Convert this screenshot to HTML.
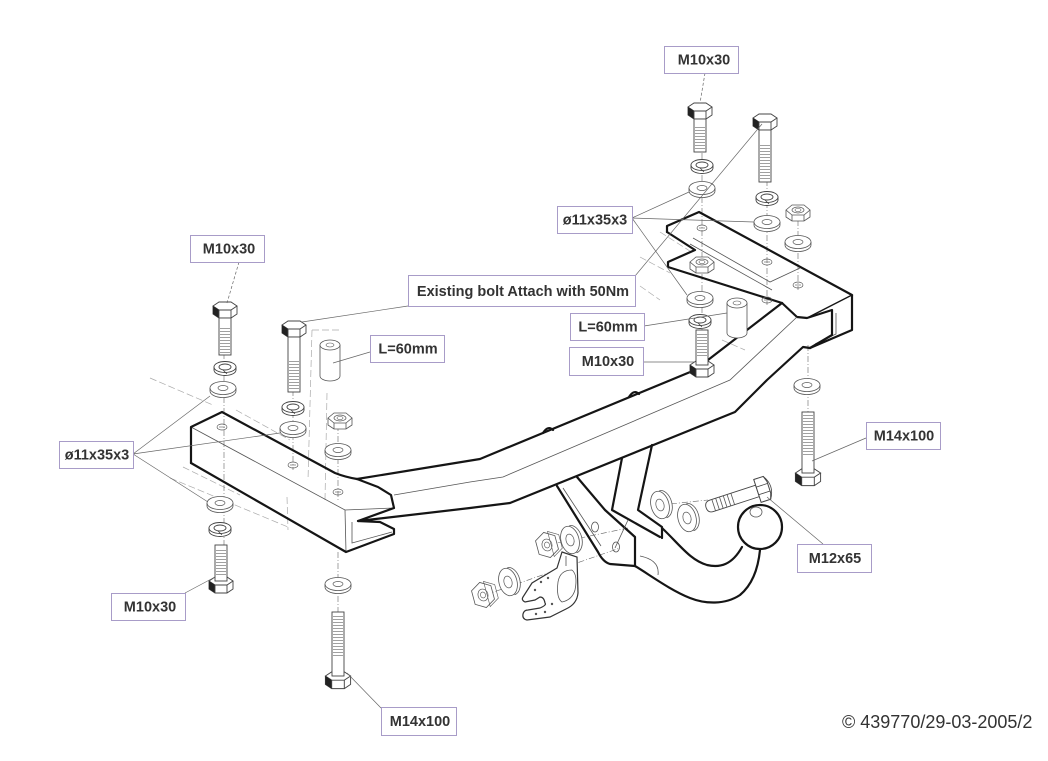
<!DOCTYPE html>
<html><head><meta charset="utf-8">
<style>
html,body{margin:0;padding:0;background:#fff;}
svg{display:block;}
.lb{fill:#fff;stroke:#a89cc8;stroke-width:1;}
.lt{font-family:"Liberation Sans",Arial,sans-serif;font-weight:bold;font-size:14.5px;fill:#333;text-anchor:middle;}
.th{fill:none;stroke:#151515;stroke-width:2.2;stroke-linejoin:round;stroke-linecap:round;}
.tn{fill:none;stroke:#555;stroke-width:0.8;}
.ld{fill:none;stroke:#666;stroke-width:0.7;}
.ph{fill:none;stroke:#aaa;stroke-width:0.7;stroke-dasharray:7,3;}
.cl{fill:none;stroke:#666;stroke-width:0.6;stroke-dasharray:6,2,1,2;}
</style></head>
<body>
<svg width="1048" height="761" viewBox="0 0 1048 761" xmlns="http://www.w3.org/2000/svg">
<defs>
<pattern id="thr" width="4" height="3" patternUnits="userSpaceOnUse"><line x1="0" y1="1.5" x2="4" y2="1.5" stroke="#777" stroke-width="0.7"/></pattern>
<g id="w">
 <path d="M-13,0 v3 a13,6.5 0 0 0 26,0 v-3" fill="#fff" stroke="#555" stroke-width="0.8"/>
 <ellipse rx="13" ry="6.5" fill="#fff" stroke="#555" stroke-width="0.8"/>
 <ellipse rx="5" ry="2.5" fill="none" stroke="#555" stroke-width="0.7"/>
</g>
<g id="sw">
 <path d="M-11,0 v3 a11,5.5 0 0 0 22,0 v-3" fill="#fff" stroke="#444" stroke-width="0.9"/>
 <ellipse rx="11" ry="5.5" fill="#fff" stroke="#444" stroke-width="0.9"/>
 <ellipse rx="6" ry="3" fill="none" stroke="#444" stroke-width="0.9"/>
 <line x1="-2" y1="3" x2="2" y2="7" stroke="#444" stroke-width="0.8"/>
</g>
<g id="n">
 <path d="M-12,0 L-12,7 L-6,11 L6,11 L12,7 L12,0" fill="#fff" stroke="#555" stroke-width="0.8"/>
 <polygon points="-12,0 -6,-5 6,-5 12,0 6,5 -6,5" fill="#fff" stroke="#555" stroke-width="0.8"/>
 <line x1="-6" y1="5" x2="-6" y2="11" stroke="#555" stroke-width="0.8"/>
 <line x1="6" y1="5" x2="6" y2="11" stroke="#555" stroke-width="0.8"/>
 <ellipse rx="6" ry="3" fill="none" stroke="#555" stroke-width="0.7"/>
 <ellipse rx="3" ry="1.5" fill="none" stroke="#555" stroke-width="0.6"/>
</g>
<g id="h">
 <ellipse rx="5" ry="3" fill="none" stroke="#555" stroke-width="0.7"/>
 <line x1="-3" y1="0" x2="3" y2="0" stroke="#555" stroke-width="0.6"/>
</g>
<g id="bh">
 <path d="M-12,0 L-12,8 L-6,12 L6,12 L12,8 L12,0" fill="#fff" stroke="#444" stroke-width="0.9"/>
 <polygon points="-12,0 -6,-4 6,-4 12,0 6,4 -6,4" fill="#fff" stroke="#444" stroke-width="0.9"/>
 <polygon points="-12,0 -6,4 -6,12 -12,8" fill="#222"/>
 <line x1="-6" y1="4" x2="-6" y2="12" stroke="#444" stroke-width="0.9"/>
 <line x1="6" y1="4" x2="6" y2="12" stroke="#444" stroke-width="0.9"/>
</g>
<g id="vw">
 <path d="M0,-14 a9,14 0 0 1 0,28" transform="translate(3,0)" fill="#fff" stroke="#555" stroke-width="0.8"/>
 <ellipse rx="9" ry="14" fill="#fff" stroke="#555" stroke-width="0.8"/>
 <ellipse rx="4" ry="6" fill="none" stroke="#555" stroke-width="0.7"/>
</g>
<g id="vn">
 <polygon points="0,-13 10,-7 10,7 0,13 -10,7 -10,-7" fill="#fff" stroke="#555" stroke-width="0.8"/>
 <polygon points="4,-13 14,-7 14,7 4,13" fill="none" stroke="#555" stroke-width="0.6"/>
 <ellipse rx="5" ry="6" fill="none" stroke="#555" stroke-width="0.7"/>
 <ellipse rx="2.5" ry="3" fill="none" stroke="#555" stroke-width="0.6"/>
</g>
</defs>

<!-- phantom chassis lines -->
<g class="ph">
 <path d="M150,378 L213,405"/>
 <path d="M170,478 L288,527"/>
 <path d="M183,467 L240,495"/>
 <path d="M312,330 L308,480"/>
 <path d="M327,393 L325,500"/>
 <path d="M312,330 L340,330"/>
 <path d="M287,497 L288,530"/>
 <path d="M236,410 L290,440"/>
 <path d="M640,257 L670,273"/>
 <path d="M660,232 L693,253"/>
 <path d="M640,286 L660,300"/>
 <path d="M722,340 L745,350"/>
</g>

<!-- centerlines -->
<g class="cl">
 <path d="M702,120 V372"/>
 <path d="M767,180 V305"/>
 <path d="M798,220 V290"/>
 <path d="M808,345 V412"/>
 <path d="M224,353 V545"/>
 <path d="M293,390 V470"/>
 <path d="M338,425 V500"/>
 <path d="M338,552 V612"/>
 <path d="M485,595 L620,548"/>
 <path d="M547,545 L628,528"/>
 <path d="M660,505 L708,500"/>
</g>

<!-- RIGHT BRACKET -->
<path d="M699,212 L852,295 L807,318" fill="none" stroke="#151515" stroke-width="1.4"/>
<path class="tn" d="M693,238 L770,282 L800,268"/>
<path class="tn" d="M690,244 L772,290"/>
<path class="tn" d="M852,295 L852,330"/>
<path class="tn" d="M836,313 L836,334 L815,344"/>
<path class="th" d="M667,232 L667,226 L699,212 L852,295 L852,330 L810,348"/>
<path class="th" d="M667,232 L695,250 L668,262 L668,267 L782,303"/>
<path class="th" d="M782,303 L797,317 L807,318 L832,310 L832,335 L810,348"/>

<!-- LEFT BRACKET -->
<path class="tn" d="M191,427 L345,510 L394,508"/>
<path class="tn" d="M345,510 L346,552"/>
<path class="tn" d="M352,522 L352,543 L392,532"/>
<path class="th" d="M191,463 L191,427 L222,412 L335,473 Q345,477 357,479"/>
<path class="th" d="M191,463 L346,552 L394,534 L394,529 L380,522 L358,521"/>

<!-- MAIN BEAM -->
<path class="th" d="M357,479 L480,459 L695,370 L782,303"/>
<path class="th" d="M357,479 L378,487 L391,495 L394,508 L358,521 L470,508 L510,503 L735,412 L767,380 L803,347 L810,348"/>
<path class="tn" d="M394,495 L470,482 L503,477 L730,380 L797,317"/>
<path class="th" stroke-width="1.4" d="M543,433 q5,-8 10,-3 M629,397 q5,-8 10,-3"/>

<!-- DRAWBAR -->
<path class="th" d="M557,486 L598,552 Q603,562 610,564 L635,566 L635,537 L605,510 L577,477"/>
<path class="tn" d="M563,488 L601,546"/>
<ellipse cx="595" cy="527" rx="3.5" ry="5" class="tn"/>
<ellipse cx="616" cy="547" rx="3.5" ry="5" class="tn"/>
<path class="th" d="M622,458 L612,510 L660,537"/>
<path class="th" d="M652,445 L638,510 L662,527 L662,538"/>
<path class="tn" d="M628,520 L615,548 M640,556 Q660,560 658,575"/>
<path class="th" d="M662,528 C680,545 690,560 707,565 C720,568 732,565 742,547"/>
<path class="th" d="M635,566 C650,575 670,590 690,598 C705,604 725,605 740,595 C752,585 758,570 760,550"/>
<circle cx="760" cy="527" r="22" fill="#fff" stroke="#151515" stroke-width="2.2"/>
<ellipse cx="756" cy="512" rx="6" ry="5" class="tn"/>

<!-- M12x65 bolt -->
<g transform="translate(708,507) rotate(-18)">
 <path d="M4,-6 L52,-6 L52,6 L4,6 Q-2,6 -2,0 Q-2,-6 4,-6 Z" fill="#fff" stroke="#444" stroke-width="0.9"/>
 <rect x="4" y="-6" width="26" height="12" fill="url(#thr)" transform="rotate(90 17 0) " opacity="0"/>
 <path d="M6,-6 v12 M10,-6 v12 M14,-6 v12 M18,-6 v12 M22,-6 v12 M26,-6 v12" stroke="#555" stroke-width="0.8"/>
 <path d="M52,-12 L62,-12 L64,-6 L64,6 L62,12 L52,12 Z" fill="#fff" stroke="#444" stroke-width="1"/>
 <path d="M52,-4 L64,-4 M52,4 L64,4" stroke="#444" stroke-width="0.8"/>
 <path d="M62,-12 Q70,0 62,12" fill="none" stroke="#444" stroke-width="0.8"/>
</g>
<use href="#vw" transform="translate(660,505) rotate(-15)"/>
<use href="#vw" transform="translate(687,518) rotate(-15)"/>

<!-- socket plate group -->
<use href="#vw" transform="translate(570,540) rotate(-15)"/>
<use href="#vn" transform="translate(547,545) rotate(-15)"/>
<use href="#vw" transform="translate(508,582) rotate(-15)"/>
<use href="#vn" transform="translate(483,595) rotate(-15)"/>
<path d="M562,552 L577,557 L578,593 Q577,604 566,609 L550,617 L527,620 Q522,619 523,614 Q524,610 528,610 L540,608 Q547,605 545,603 Q544,597 540,597 L535,600 L525,602 Q521,600 523,597 L532,583 L557,568 Z" fill="#fff" stroke="#333" stroke-width="1.2"/>
<path class="tn" d="M566,556 L566,566 M572,570 Q578,575 575,590 Q572,600 562,602 Q556,598 558,582 Q560,570 572,570"/>
<circle cx="535" cy="590" r="1.2" fill="#555"/><circle cx="541" cy="582" r="1.2" fill="#555"/><circle cx="548" cy="578" r="1.2" fill="#555"/><circle cx="552" cy="604" r="1.2" fill="#555"/><circle cx="545" cy="612" r="1.2" fill="#555"/><circle cx="536" cy="614" r="1.2" fill="#555"/>

<!-- RIGHT STACKS -->
<use href="#bh" transform="translate(700,107)"/>
<rect x="694" y="119" width="12" height="33" fill="#fff" stroke="#444" stroke-width="0.9"/>
<rect x="695" y="127" width="10" height="23" fill="url(#thr)"/>
<use href="#sw" x="702" y="165"/>
<use href="#w" x="702" y="188"/>
<use href="#h" x="702" y="228"/>
<use href="#bh" transform="translate(765,118)"/>
<rect x="759" y="130" width="12" height="52" fill="#fff" stroke="#444" stroke-width="0.9"/>
<rect x="760" y="145" width="10" height="35" fill="url(#thr)"/>
<use href="#sw" x="767" y="197"/>
<use href="#w" x="767" y="222"/>
<use href="#h" x="767" y="262"/>
<use href="#n" x="798" y="210"/>
<use href="#w" x="798" y="242"/>
<use href="#h" x="798" y="285"/>
<use href="#h" x="767" y="300"/>
<use href="#n" x="702" y="262"/>
<use href="#w" x="700" y="298"/>
<use href="#sw" x="700" y="320"/>
<!-- bolt E (up) -->
<use href="#bh" transform="translate(702,365)"/>
<rect x="696" y="330" width="12" height="35" fill="#fff" stroke="#444" stroke-width="0.9"/>
<rect x="697" y="334" width="10" height="24" fill="url(#thr)"/>
<!-- spacer right -->
<path d="M727,303 V333 A10,5 0 0 0 747,333 V303" fill="#fff" stroke="#555" stroke-width="0.8"/>
<ellipse cx="737" cy="303" rx="10" ry="5" fill="#fff" stroke="#555" stroke-width="0.8"/>
<ellipse cx="737" cy="303" rx="4" ry="2" fill="none" stroke="#555" stroke-width="0.6"/>
<!-- under right bracket -->
<use href="#w" x="807" y="385"/>
<use href="#bh" transform="translate(808,473) scale(1.05)"/>
<rect x="802" y="412" width="12" height="61" fill="#fff" stroke="#444" stroke-width="0.9"/>
<rect x="803" y="415" width="10" height="42" fill="url(#thr)"/>

<!-- LEFT STACKS -->
<use href="#bh" transform="translate(225,306)"/>
<rect x="219" y="318" width="12" height="37" fill="#fff" stroke="#444" stroke-width="0.9"/>
<rect x="220" y="326" width="10" height="27" fill="url(#thr)"/>
<use href="#sw" x="225" y="367"/>
<use href="#w" x="223" y="388"/>
<use href="#h" x="222" y="427"/>
<use href="#bh" transform="translate(294,325)"/>
<rect x="288" y="337" width="12" height="55" fill="#fff" stroke="#444" stroke-width="0.9"/>
<rect x="289" y="360" width="10" height="30" fill="url(#thr)"/>
<use href="#sw" x="293" y="407"/>
<use href="#w" x="293" y="428"/>
<use href="#h" x="293" y="465"/>
<path d="M320,345 V376 A10,5 0 0 0 340,376 V345" fill="#fff" stroke="#555" stroke-width="0.8"/>
<ellipse cx="330" cy="345" rx="10" ry="5" fill="#fff" stroke="#555" stroke-width="0.8"/>
<ellipse cx="330" cy="345" rx="4" ry="2" fill="none" stroke="#555" stroke-width="0.6"/>
<use href="#n" x="340" y="418"/>
<use href="#w" x="338" y="450"/>
<use href="#h" x="338" y="492"/>
<use href="#w" x="220" y="503"/>
<use href="#sw" x="220" y="528"/>
<use href="#bh" transform="translate(221,581)"/>
<rect x="215" y="545" width="12" height="36" fill="#fff" stroke="#444" stroke-width="0.9"/>
<rect x="216" y="549" width="10" height="26" fill="url(#thr)"/>
<use href="#w" x="338" y="584"/>
<use href="#bh" transform="translate(338,676) scale(1.05)"/>
<rect x="332" y="612" width="12" height="64" fill="#fff" stroke="#444" stroke-width="0.9"/>
<rect x="333" y="615" width="10" height="42" fill="url(#thr)"/>

<!-- LEADERS -->
<g class="ld">
 <path d="M705,73 L700,103" stroke-dasharray="3,2"/>
 <path d="M632,218 L689,192 M632,218 L754,222 M632,218 L687,295"/>
 <path d="M635,276 L762,124"/>
 <path d="M408,306 L302,322"/>
 <path d="M644,326 L727,313"/>
 <path d="M643,362 L695,362"/>
 <path d="M370,352 L333,363"/>
 <path d="M239,262 L227,303" stroke-dasharray="3,2"/>
 <path d="M133,454 L210,396 M133,454 L280,433 M133,454 L208,502"/>
 <path d="M185,593 L215,577"/>
 <path d="M381,708 L347,673"/>
 <path d="M866,438 L812,461"/>
 <path d="M823,544 L767,497"/>
</g>

<!-- LABELS -->
<rect class="lb" x="664.5" y="46.5" width="74" height="27"/><text class="lt" x="704" y="64.5">M10x30</text>
<rect class="lb" x="557.5" y="206.5" width="75" height="27"/><text class="lt" x="595" y="224.5">ø11x35x3</text>
<rect class="lb" x="408.5" y="275.5" width="227" height="31"/><text class="lt" x="523" y="296">Existing bolt Attach with 50Nm</text>
<rect class="lb" x="570.5" y="313.5" width="74" height="27"/><text class="lt" x="608" y="331.5">L=60mm</text>
<rect class="lb" x="569.5" y="347.5" width="74" height="28"/><text class="lt" x="608" y="366">M10x30</text>
<rect class="lb" x="370.5" y="335.5" width="74" height="27"/><text class="lt" x="408" y="353.5">L=60mm</text>
<rect class="lb" x="190.5" y="235.5" width="74" height="27"/><text class="lt" x="229" y="253.5">M10x30</text>
<rect class="lb" x="59.5" y="441.5" width="74" height="27"/><text class="lt" x="97" y="459.5">ø11x35x3</text>
<rect class="lb" x="111.5" y="593.5" width="74" height="27"/><text class="lt" x="150" y="611.5">M10x30</text>
<rect class="lb" x="381.5" y="707.5" width="75" height="28"/><text class="lt" x="420" y="726">M14x100</text>
<rect class="lb" x="866.5" y="422.5" width="74" height="27"/><text class="lt" x="904" y="440.5">M14x100</text>
<rect class="lb" x="797.5" y="544.5" width="74" height="28"/><text class="lt" x="835" y="563">M12x65</text>

<text x="842" y="728" font-family="'Liberation Sans',Arial,sans-serif" font-size="18" fill="#333">© 439770/29-03-2005/2</text>
</svg>
</body></html>
